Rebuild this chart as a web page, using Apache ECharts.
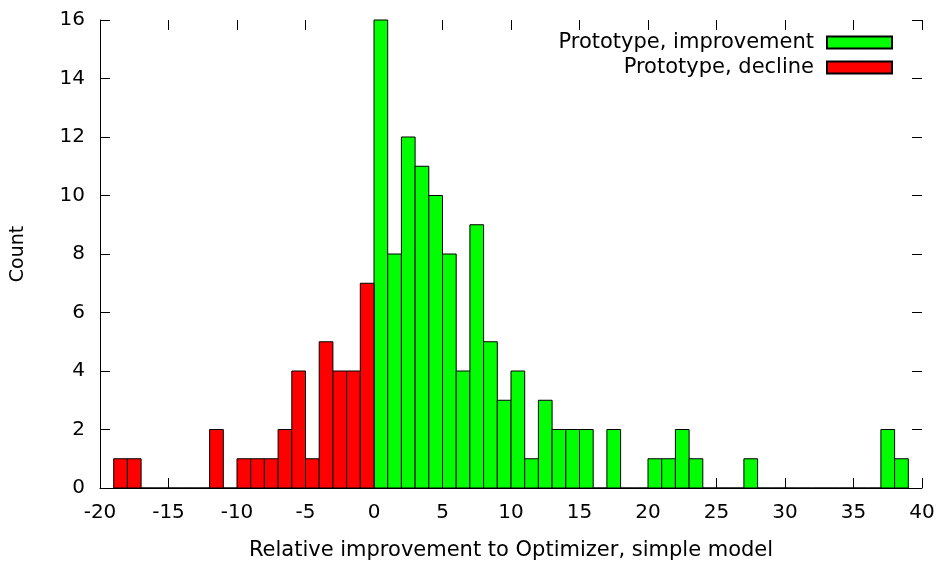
<!DOCTYPE html>
<html>
<head>
<meta charset="utf-8">
<script src="https://cdn.jsdelivr.net/npm/echarts@6/dist/echarts.min.js"></script>
<style>
  html, body { margin: 0; padding: 0; background: #fff; }
  #chart { width: 941px; height: 566px; }
</style>
</head>
<body>
<div id="chart"></div>
<script>
// Histogram bins: left edge of each unit-width bin and its count
const binWidth = 1;
const declineBins = [-19, -18, -17, -16, -15, -14, -13, -12, -11, -10, -9, -8, -7, -6, -5, -4, -3, -2, -1];
const declineCounts = [1, 1, 0, 0, 0, 0, 0, 2, 0, 1, 1, 1, 2, 4, 1, 5, 4, 4, 7];
const improvementBins = [0, 1, 2, 3, 4, 5, 6, 7, 8, 9, 10, 11, 12, 13, 14, 15, 16, 17, 18, 19,
  20, 21, 22, 23, 24, 25, 26, 27, 28, 29, 30, 31, 32, 33, 34, 35, 36, 37, 38];
const improvementCounts = [16, 8, 12, 11, 10, 8, 4, 9, 5, 3, 4, 1, 3, 2, 2, 2, 0, 2, 0, 0,
  1, 1, 2, 1, 0, 0, 0, 1, 0, 0, 0, 0, 0, 0, 0, 0, 0, 2, 1];
const seriesNames = ['Prototype, improvement', 'Prototype, decline'];
const xTitle = 'Relative improvement to Optimizer, simple model';
const yTitle = 'Count';

const FONT = 'DejaVu Sans';

function renderBox(params, api) {
  const x0 = api.value(0);
  const y = api.value(1);
  const p0 = api.coord([x0, y]);
  const p1 = api.coord([x0 + binWidth, 0]);
  return {
    type: 'rect',
    shape: { x: p0[0], y: p0[1], width: p1[0] - p0[0], height: p1[1] - p0[1] },
    style: api.style()
  };
}

const toPairs = (bins, counts) => bins.map((b, i) => [b, counts[i]]);

const chart = echarts.init(document.getElementById('chart'), null, { renderer: 'canvas' });

const tickStyle = { show: true, inside: true, length: 10, lineStyle: { color: '#000', width: 1 } };

chart.setOption({
  animation: false,
  textStyle: { fontFamily: FONT },
  grid: { left: 100, right: 19, top: 20, bottom: 77, containLabel: false },
  legend: {
    orient: 'vertical',
    align: 'right',
    right: 43,
    top: 27,
    itemWidth: 65,
    itemHeight: 12,
    itemGap: 4,
    textStyle: { fontFamily: FONT, fontSize: 21, color: '#000', padding: [0, 8, 0, 0] },
    data: [
      { name: seriesNames[0], icon: 'rect' },
      { name: seriesNames[1], icon: 'rect' }
    ]
  },
  xAxis: [
    {
      type: 'value', min: -20, max: 40, interval: 5,
      name: xTitle, nameLocation: 'middle', nameGap: 52,
      nameTextStyle: { fontFamily: FONT, fontSize: 21, color: '#000' },
      axisLine: { show: true, onZero: false, lineStyle: { color: '#000', width: 1 } },
      axisTick: tickStyle,
      axisLabel: { fontFamily: FONT, fontSize: 20, color: '#000', margin: 15 },
      splitLine: { show: false }
    },
    {
      type: 'value', position: 'top', min: -20, max: 40, interval: 5,
      axisLine: { show: false, onZero: false },
      axisTick: tickStyle,
      axisLabel: { show: false },
      splitLine: { show: false }
    }
  ],
  yAxis: [
    {
      type: 'value', min: 0, max: 16, interval: 2,
      name: yTitle, nameLocation: 'middle', nameGap: 72,
      nameTextStyle: { fontFamily: FONT, fontSize: 19, color: '#000' },
      axisLine: { show: true, onZero: false, lineStyle: { color: '#000', width: 1 } },
      axisTick: tickStyle,
      axisLabel: { fontFamily: FONT, fontSize: 20, color: '#000', margin: 15 },
      splitLine: { show: false }
    },
    {
      type: 'value', position: 'right', min: 0, max: 16, interval: 2,
      axisLine: { show: false, onZero: false },
      axisTick: tickStyle,
      axisLabel: { show: false },
      splitLine: { show: false }
    }
  ],
  series: [
    {
      name: seriesNames[0],
      type: 'custom',
      renderItem: renderBox,
      encode: { x: 0, y: 1 },
      itemStyle: { color: '#00ff00', borderColor: '#000', borderWidth: 1 },
      data: toPairs(improvementBins, improvementCounts)
    },
    {
      name: seriesNames[1],
      type: 'custom',
      renderItem: renderBox,
      encode: { x: 0, y: 1 },
      itemStyle: { color: '#ff0000', borderColor: '#000', borderWidth: 1 },
      data: toPairs(declineBins, declineCounts)
    }
  ]
});
</script>
</body>
</html>
